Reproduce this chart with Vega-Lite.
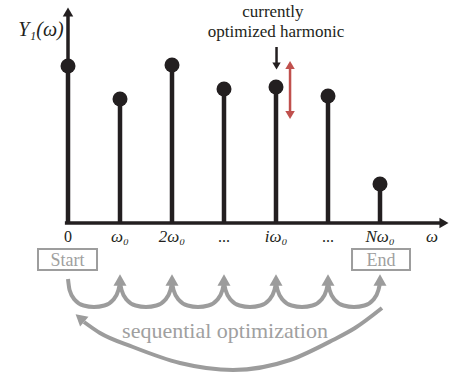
{
  "$schema": "https://vega.github.io/schema/vega-lite/v6.json",
  "width": 449,
  "height": 378,
  "autosize": {"type": "none"},
  "padding": 0,
  "background": "white",
  "config": {"view": {"stroke": null}, "axis": {"disable": true}},
  "datasets": {
    "stems": [
      {"x": 0, "y": 1.57}, {"x": 1, "y": 1.24}, {"x": 2, "y": 1.58}, {"x": 3, "y": 1.34},
      {"x": 4, "y": 1.36}, {"x": 5, "y": 1.27}, {"x": 6, "y": 0.39}
    ],
    "axes": [
      {"x": 0, "y": 0, "x2": 0, "y2": 2.1},
      {"x": -0.06, "y": 0, "x2": 7.17, "y2": 0}
    ],
    "axisHeads": [
      {"x": 0, "y": 2.11, "shape": "triangle-up"},
      {"x": 7.23, "y": 0, "shape": "triangle-right"}
    ],
    "ticks": [
      {"x": 0, "y": -0.14, "t": "0", "it": false},
      {"x": 1, "y": -0.14, "t": "ω₀", "it": true},
      {"x": 2, "y": -0.14, "t": "2ω₀", "it": true},
      {"x": 3, "y": -0.14, "t": "...", "it": false},
      {"x": 4, "y": -0.14, "t": "iω₀", "it": true},
      {"x": 5, "y": -0.14, "t": "...", "it": false},
      {"x": 6, "y": -0.14, "t": "Nω₀", "it": true},
      {"x": 7, "y": -0.14, "t": "ω", "it": true}
    ],
    "boxes": [
      {"x": -0.577, "x2": 0.558, "y": -0.26, "y2": -0.47, "t": "Start", "tx": -0.01},
      {"x": 5.462, "x2": 6.577, "y": -0.26, "y2": -0.47, "t": "End", "tx": 6.02}
    ],
    "arcs": [
      {"arc": 0, "x": 0, "y": -0.56}, {"arc": 0, "x": 0.03, "y": -0.67}, {"arc": 0, "x": 0.134, "y": -0.77}, {"arc": 0, "x": 0.3, "y": -0.825}, {"arc": 0, "x": 0.5, "y": -0.84}, {"arc": 0, "x": 0.7, "y": -0.825}, {"arc": 0, "x": 0.866, "y": -0.77}, {"arc": 0, "x": 0.97, "y": -0.67}, {"arc": 0, "x": 1, "y": -0.6},
      {"arc": 1, "x": 1, "y": -0.6}, {"arc": 1, "x": 1.03, "y": -0.67}, {"arc": 1, "x": 1.134, "y": -0.77}, {"arc": 1, "x": 1.3, "y": -0.825}, {"arc": 1, "x": 1.5, "y": -0.84}, {"arc": 1, "x": 1.7, "y": -0.825}, {"arc": 1, "x": 1.866, "y": -0.77}, {"arc": 1, "x": 1.97, "y": -0.67}, {"arc": 1, "x": 2, "y": -0.6},
      {"arc": 2, "x": 2, "y": -0.6}, {"arc": 2, "x": 2.03, "y": -0.67}, {"arc": 2, "x": 2.134, "y": -0.77}, {"arc": 2, "x": 2.3, "y": -0.825}, {"arc": 2, "x": 2.5, "y": -0.84}, {"arc": 2, "x": 2.7, "y": -0.825}, {"arc": 2, "x": 2.866, "y": -0.77}, {"arc": 2, "x": 2.97, "y": -0.67}, {"arc": 2, "x": 3, "y": -0.6},
      {"arc": 3, "x": 3, "y": -0.6}, {"arc": 3, "x": 3.03, "y": -0.67}, {"arc": 3, "x": 3.134, "y": -0.77}, {"arc": 3, "x": 3.3, "y": -0.825}, {"arc": 3, "x": 3.5, "y": -0.84}, {"arc": 3, "x": 3.7, "y": -0.825}, {"arc": 3, "x": 3.866, "y": -0.77}, {"arc": 3, "x": 3.97, "y": -0.67}, {"arc": 3, "x": 4, "y": -0.6},
      {"arc": 4, "x": 4, "y": -0.6}, {"arc": 4, "x": 4.03, "y": -0.67}, {"arc": 4, "x": 4.134, "y": -0.77}, {"arc": 4, "x": 4.3, "y": -0.825}, {"arc": 4, "x": 4.5, "y": -0.84}, {"arc": 4, "x": 4.7, "y": -0.825}, {"arc": 4, "x": 4.866, "y": -0.77}, {"arc": 4, "x": 4.97, "y": -0.67}, {"arc": 4, "x": 5, "y": -0.6},
      {"arc": 5, "x": 5, "y": -0.6}, {"arc": 5, "x": 5.03, "y": -0.67}, {"arc": 5, "x": 5.134, "y": -0.77}, {"arc": 5, "x": 5.3, "y": -0.825}, {"arc": 5, "x": 5.5, "y": -0.84}, {"arc": 5, "x": 5.7, "y": -0.825}, {"arc": 5, "x": 5.866, "y": -0.77}, {"arc": 5, "x": 5.97, "y": -0.67}, {"arc": 5, "x": 6, "y": -0.6},
      {"arc": 6, "x": 6.038, "y": -0.85}, {"arc": 6, "x": 5.519, "y": -1.05}, {"arc": 6, "x": 5.096, "y": -1.17}, {"arc": 6, "x": 4.269, "y": -1.37}, {"arc": 6, "x": 3.173, "y": -1.47}, {"arc": 6, "x": 2.154, "y": -1.4}, {"arc": 6, "x": 1.25, "y": -1.24}, {"arc": 6, "x": 0.615, "y": -1.1}, {"arc": 6, "x": 0.308, "y": -0.99}
    ],
    "arcHeads": [
      {"x": 1, "y": -0.57, "a": 0}, {"x": 2, "y": -0.57, "a": 0}, {"x": 3, "y": -0.57, "a": 0},
      {"x": 4, "y": -0.57, "a": 0}, {"x": 5, "y": -0.57, "a": 0}, {"x": 6, "y": -0.57, "a": 0},
      {"x": 0.23, "y": -0.95, "a": -50}
    ],
    "blackArrow": [{"x": 4.01, "y": 1.76, "y2": 1.6}],
    "blackHead": [{"x": 4.01, "y": 1.57}],
    "redArrow": [{"x": 4.27, "y": 1.57, "y2": 1.09}],
    "redHeads": [
      {"x": 4.27, "y": 1.58, "shape": "triangle-up"},
      {"x": 4.27, "y": 1.08, "shape": "triangle-down"}
    ],
    "notes": [
      {"x": 3.94, "y": 2.11, "t": "currently"},
      {"x": 4.0, "y": 1.91, "t": "optimized harmonic"}
    ],
    "bigText": [
      {"x": 3.02, "y": -1.08, "t": "sequential optimization"}
    ],
    "yLabel": [
      {"x": -0.52, "y": 1.93, "t": "Y₁(ω)"}
    ]
  },
  "layer": [
    {
      "data": {"name": "axes"},
      "mark": {"type": "rule", "color": "#231f20", "strokeWidth": 3.5},
      "encoding": {
        "x": {"field": "x", "type": "quantitative", "scale": {"domain": [-1.3077, 7.3269], "nice": false, "zero": false}},
        "y": {"field": "y", "type": "quantitative", "scale": {"domain": [-1.55, 2.23], "nice": false, "zero": false}},
        "x2": {"field": "x2"},
        "y2": {"field": "y2"}
      }
    },
    {
      "data": {"name": "axisHeads"},
      "mark": {"type": "point", "filled": true, "color": "#231f20", "size": 110, "opacity": 1},
      "encoding": {
        "x": {"field": "x", "type": "quantitative", "scale": {"domain": [-1.3077, 7.3269], "nice": false, "zero": false}},
        "y": {"field": "y", "type": "quantitative", "scale": {"domain": [-1.55, 2.23], "nice": false, "zero": false}},
        "shape": {"field": "shape", "type": "nominal", "scale": null, "legend": null}
      }
    },
    {
      "data": {"name": "stems"},
      "mark": {"type": "rule", "color": "#231f20", "strokeWidth": 4.5},
      "encoding": {
        "x": {"field": "x", "type": "quantitative", "scale": {"domain": [-1.3077, 7.3269], "nice": false, "zero": false}},
        "y": {"field": "y", "type": "quantitative", "scale": {"domain": [-1.55, 2.23], "nice": false, "zero": false}},
        "y2": {"datum": 0}
      }
    },
    {
      "data": {"name": "stems"},
      "mark": {"type": "point", "shape": "circle", "filled": true, "color": "#231f20", "size": 225, "opacity": 1},
      "encoding": {
        "x": {"field": "x", "type": "quantitative", "scale": {"domain": [-1.3077, 7.3269], "nice": false, "zero": false}},
        "y": {"field": "y", "type": "quantitative", "scale": {"domain": [-1.55, 2.23], "nice": false, "zero": false}}
      }
    },
    {
      "data": {"name": "ticks"},
      "transform": [{"filter": "datum.it"}],
      "mark": {"type": "text", "font": "Liberation Serif", "fontStyle": "italic", "fontSize": 17, "color": "#231f20", "baseline": "middle", "align": "center"},
      "encoding": {
        "x": {"field": "x", "type": "quantitative", "scale": {"domain": [-1.3077, 7.3269], "nice": false, "zero": false}},
        "y": {"field": "y", "type": "quantitative", "scale": {"domain": [-1.55, 2.23], "nice": false, "zero": false}},
        "text": {"field": "t"}
      }
    },
    {
      "data": {"name": "ticks"},
      "transform": [{"filter": "!datum.it"}],
      "mark": {"type": "text", "font": "Liberation Serif", "fontSize": 16, "color": "#231f20", "baseline": "middle", "align": "center"},
      "encoding": {
        "x": {"field": "x", "type": "quantitative", "scale": {"domain": [-1.3077, 7.3269], "nice": false, "zero": false}},
        "y": {"field": "y", "type": "quantitative", "scale": {"domain": [-1.55, 2.23], "nice": false, "zero": false}},
        "text": {"field": "t"}
      }
    },
    {
      "data": {"name": "boxes"},
      "mark": {"type": "rect", "fill": "white", "stroke": "#9d9d9d", "strokeWidth": 2},
      "encoding": {
        "x": {"field": "x", "type": "quantitative", "scale": {"domain": [-1.3077, 7.3269], "nice": false, "zero": false}},
        "y": {"field": "y", "type": "quantitative", "scale": {"domain": [-1.55, 2.23], "nice": false, "zero": false}},
        "x2": {"field": "x2"},
        "y2": {"field": "y2"}
      }
    },
    {
      "data": {"name": "boxes"},
      "mark": {"type": "text", "font": "Liberation Serif", "fontSize": 18, "color": "#a0a0a0", "baseline": "middle", "align": "center", "dy": 1},
      "encoding": {
        "x": {"field": "tx", "type": "quantitative", "scale": {"domain": [-1.3077, 7.3269], "nice": false, "zero": false}},
        "y": {"datum": -0.365, "type": "quantitative", "scale": {"domain": [-1.55, 2.23], "nice": false, "zero": false}},
        "text": {"field": "t"}
      }
    },
    {
      "data": {"name": "arcs"},
      "mark": {"type": "line", "color": "#9c9c9c", "strokeWidth": 4, "interpolate": "monotone"},
      "encoding": {
        "x": {"field": "x", "type": "quantitative", "scale": {"domain": [-1.3077, 7.3269], "nice": false, "zero": false}},
        "y": {"field": "y", "type": "quantitative", "scale": {"domain": [-1.55, 2.23], "nice": false, "zero": false}},
        "detail": {"field": "arc", "type": "nominal"}
      }
    },
    {
      "data": {"name": "arcHeads"},
      "mark": {"type": "point", "shape": "triangle-up", "filled": true, "color": "#9c9c9c", "size": 170, "opacity": 1},
      "encoding": {
        "x": {"field": "x", "type": "quantitative", "scale": {"domain": [-1.3077, 7.3269], "nice": false, "zero": false}},
        "y": {"field": "y", "type": "quantitative", "scale": {"domain": [-1.55, 2.23], "nice": false, "zero": false}},
        "angle": {"field": "a", "type": "quantitative", "scale": null}
      }
    },
    {
      "data": {"name": "bigText"},
      "mark": {"type": "text", "font": "Liberation Serif", "fontSize": 22, "color": "#a0a0a0", "baseline": "middle", "align": "center"},
      "encoding": {
        "x": {"field": "x", "type": "quantitative", "scale": {"domain": [-1.3077, 7.3269], "nice": false, "zero": false}},
        "y": {"field": "y", "type": "quantitative", "scale": {"domain": [-1.55, 2.23], "nice": false, "zero": false}},
        "text": {"field": "t"}
      }
    },
    {
      "data": {"name": "yLabel"},
      "mark": {"type": "text", "font": "Liberation Serif", "fontStyle": "italic", "fontSize": 20, "color": "#231f20", "baseline": "middle", "align": "center"},
      "encoding": {
        "x": {"field": "x", "type": "quantitative", "scale": {"domain": [-1.3077, 7.3269], "nice": false, "zero": false}},
        "y": {"field": "y", "type": "quantitative", "scale": {"domain": [-1.55, 2.23], "nice": false, "zero": false}},
        "text": {"field": "t"}
      }
    },
    {
      "data": {"name": "notes"},
      "mark": {"type": "text", "font": "Liberation Serif", "fontSize": 17, "color": "#231f20", "baseline": "middle", "align": "center"},
      "encoding": {
        "x": {"field": "x", "type": "quantitative", "scale": {"domain": [-1.3077, 7.3269], "nice": false, "zero": false}},
        "y": {"field": "y", "type": "quantitative", "scale": {"domain": [-1.55, 2.23], "nice": false, "zero": false}},
        "text": {"field": "t"}
      }
    },
    {
      "data": {"name": "blackArrow"},
      "mark": {"type": "rule", "color": "#231f20", "strokeWidth": 2.5},
      "encoding": {
        "x": {"field": "x", "type": "quantitative", "scale": {"domain": [-1.3077, 7.3269], "nice": false, "zero": false}},
        "y": {"field": "y", "type": "quantitative", "scale": {"domain": [-1.55, 2.23], "nice": false, "zero": false}},
        "y2": {"field": "y2"}
      }
    },
    {
      "data": {"name": "blackHead"},
      "mark": {"type": "point", "shape": "triangle-down", "filled": true, "color": "#231f20", "size": 70, "opacity": 1},
      "encoding": {
        "x": {"field": "x", "type": "quantitative", "scale": {"domain": [-1.3077, 7.3269], "nice": false, "zero": false}},
        "y": {"field": "y", "type": "quantitative", "scale": {"domain": [-1.55, 2.23], "nice": false, "zero": false}}
      }
    },
    {
      "data": {"name": "redArrow"},
      "mark": {"type": "rule", "color": "#c0504d", "strokeWidth": 2.5},
      "encoding": {
        "x": {"field": "x", "type": "quantitative", "scale": {"domain": [-1.3077, 7.3269], "nice": false, "zero": false}},
        "y": {"field": "y", "type": "quantitative", "scale": {"domain": [-1.55, 2.23], "nice": false, "zero": false}},
        "y2": {"field": "y2"}
      }
    },
    {
      "data": {"name": "redHeads"},
      "mark": {"type": "point", "filled": true, "color": "#c0504d", "size": 90, "opacity": 1},
      "encoding": {
        "x": {"field": "x", "type": "quantitative", "scale": {"domain": [-1.3077, 7.3269], "nice": false, "zero": false}},
        "y": {"field": "y", "type": "quantitative", "scale": {"domain": [-1.55, 2.23], "nice": false, "zero": false}},
        "shape": {"field": "shape", "type": "nominal", "scale": null, "legend": null}
      }
    }
  ]
}
